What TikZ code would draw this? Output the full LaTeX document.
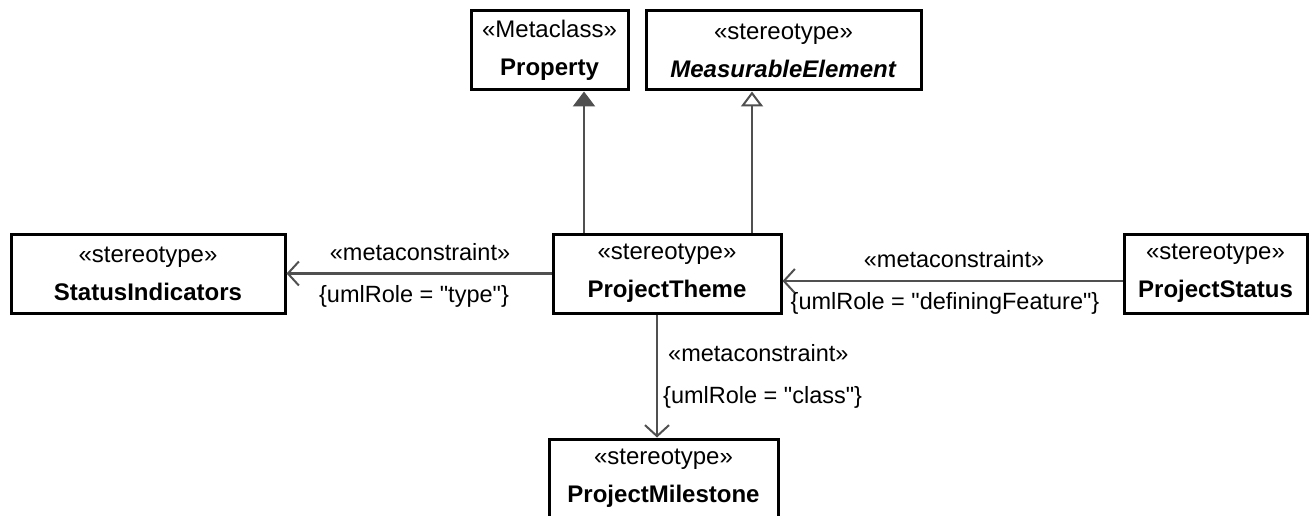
\documentclass[tikz,border=0pt]{standalone}
\usepackage{fontspec}
\setmainfont{Liberation Sans}[Ligatures=TeXOff]
\usetikzlibrary{arrows.meta}
\definecolor{linegray}{HTML}{505050}
\newcommand{\dq}{\symbol{34}}
\tikzset{
  umlbox/.style={draw=black, line width=3pt, fill=white, rectangle, inner sep=0pt,
    minimum height=79pt, align=center, font=\fontsize{24}{38}\selectfont},
  conn/.style={draw=linegray, line width=2.4pt},
  gen/.style={conn, -{Triangle[open, length=15pt, width=22pt, line width=2pt]}},
  assoc/.style={conn, -{Triangle[length=15pt, width=22pt, fill=linegray]}},
  mc/.style={conn, -{Straight Barb[length=11pt, width=24pt, line width=2pt]}},
  lbl/.style={inner sep=0pt, font=\fontsize{23.5}{28}\selectfont}
}
\begin{document}
\begin{tikzpicture}[x=1pt,y=-1pt]
\useasboundingbox (0,0) rectangle (1311,516);
% boxes
\node[umlbox, minimum width=157pt] (P) at (549.5,50.5) {«Metaclass»\\\textbf{Property}};
\node[umlbox, minimum width=275pt] (ME) at (783.5,50.5) {«stereotype»\\\textbf{\textit{MeasurableElement}}};
\node[umlbox, minimum width=274pt] (SI) at (148,273.5) {«stereotype»\\\textbf{StatusIndicators}};
\node[umlbox, minimum width=228pt] (PT) at (667,273.5) {«stereotype»\\\textbf{ProjectTheme}};
\node[umlbox, minimum width=183pt] (PS) at (1215.5,273.5) {«stereotype»\\\textbf{ProjectStatus}};
\node[umlbox, minimum width=229pt] (PM) at (663.5,478.5) {«stereotype»\\\textbf{ProjectMilestone}};
% helper coordinates
\coordinate (xP) at (584,0);
\coordinate (xME) at (752,0);
\coordinate (yPS) at (0,281);
\coordinate (xPM) at (657,0);
% connectors
\draw[assoc] (PT.north -| xP) -- (P.south -| xP);
\draw[gen] (PT.north -| xME) -- (ME.south -| xME);
\draw[mc] (PT.west) -- (SI.east);
\draw[mc] (PS.west |- yPS) -- (PT.east |- yPS);
\draw[mc] (PT.south -| xPM) -- (PM.north -| xPM);
% labels
\node[lbl] (l1a) at (420,252) {«metaconstraint»};
\node[lbl] (l1b) at (414,296) {\{umlRole = \dq type\dq\}};
\node[lbl] (l2a) at (954,259) {«metaconstraint»};
\node[lbl] (l2b) at (945,303) {\{umlRole = \dq definingFeature\dq\}};
\node[lbl, anchor=west] (l3a) at (668,353) {«metaconstraint»};
\node[lbl, anchor=west] (l3b) at (663,397) {\{umlRole = \dq class\dq\}};
\end{tikzpicture}
\end{document}
